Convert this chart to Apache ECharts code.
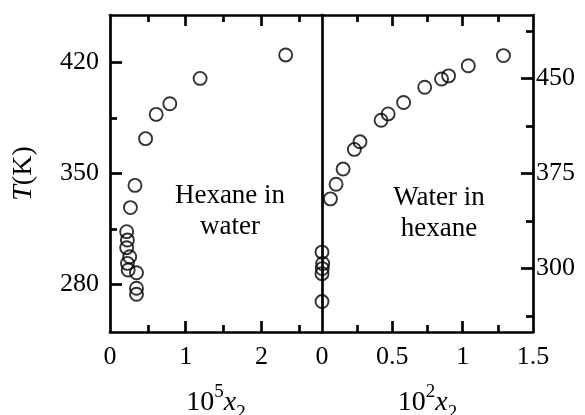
<!DOCTYPE html>
<html><head><meta charset="utf-8">
<script src="https://cdn.jsdelivr.net/npm/echarts@6/dist/echarts.min.js"></script>
<style>html,body{margin:0;padding:0;background:#fff}#c{width:585px;height:415px}</style>
</head><body><div id="c"></div>
<script>
// Hexane in water (left panel): x in units of 1e-5, T in K
const hexaneX = [2.32, 1.19, 0.79, 0.61, 0.47, 0.33, 0.27, 0.22, 0.23, 0.22, 0.26, 0.23, 0.24, 0.35, 0.35, 0.35];
const hexaneT = [424.8, 410, 394, 387.3, 372, 342.5, 328.5, 313.3, 308, 303.2, 297.5, 293.3, 289.1, 287.4, 277.6, 273.8];
// Water in hexane (right panel): x in units of 1e-2, T in K
const waterX = [1.29, 1.04, 0.90, 0.85, 0.73, 0.58, 0.47, 0.42, 0.27, 0.23, 0.15, 0.10, 0.06, 0, 0.005, 0.002, 0, 0];
const waterT = [468, 460, 452, 449.5, 443, 431, 422, 417, 400, 394, 378.5, 366.5, 355, 313, 304, 300, 296, 274];
// Tick values
const leftXLabels = [0, 1, 2];
const leftXMajor = [1, 2];
const leftXMinor = [0.5, 1.5, 2.5];
const rightXLabels = [0, 0.5, 1, 1.5];
const rightXMajor = [0.5, 1];
const rightXMinor = [0.25, 0.75, 1.25];
const leftYLabels = [280, 350, 420];
const leftYMinor = [315, 385];
const rightYLabels = [300, 375, 450];
const rightYMinor = [262.5, 337.5, 412.5, 487.5];

const FONT = '"Liberation Serif", "Times New Roman", serif';
const LW = 2.7;
const lineStyle = {color: '#000', width: LW};
const labelStyle = {color: '#000', fontFamily: FONT, fontSize: 26};

function axisX(grid, pos, min, max, opts) {
  const base = {
    type: 'value', gridIndex: grid, position: pos, min: min, max: max,
    axisLine: {show: false, onZero: false, lineStyle: lineStyle},
    axisTick: {show: false},
    axisLabel: {show: false},
    splitLine: {show: false}
  };
  const o = Object.assign(base, opts);
  o.axisLine.onZero = false;
  return o;
}
function ticks(vals, len) {
  return {show: true, inside: true, length: len, customValues: vals, lineStyle: {color: '#000', width: LW}};
}
const showLine = () => ({show: true, onZero: false, lineStyle: lineStyle});
const nameRich = {
  n: {fontFamily: FONT, fontSize: 28, color: '#000', verticalAlign: 'middle'},
  sup: {fontFamily: FONT, fontSize: 19, color: '#000', verticalAlign: 'top'},
  i: {fontFamily: FONT, fontStyle: 'italic', fontSize: 28, color: '#000', verticalAlign: 'middle'},
  sub: {fontFamily: FONT, fontSize: 19, color: '#000', verticalAlign: 'bottom'}
};

const xAxes = [
  axisX(0, 'bottom', 0, 2.8, {axisLine: showLine(), axisTick: ticks(leftXMajor, 11),
    axisLabel: Object.assign({show: true, margin: 12, customValues: leftXLabels}, labelStyle),
    name: '{n|10}{sup|5}{i|x}{sub|2}', nameLocation: 'middle', nameGap: 51,
    nameTextStyle: {rich: nameRich, lineHeight: 40}}),
  axisX(0, 'bottom', 0, 2.8, {axisTick: ticks(leftXMinor, 7)}),
  axisX(0, 'top', 0, 2.8, {axisLine: showLine(), axisTick: ticks(leftXMajor, 11)}),
  axisX(0, 'top', 0, 2.8, {axisTick: ticks(leftXMinor, 7)}),
  axisX(1, 'bottom', 0, 1.5, {axisLine: showLine(), axisTick: ticks(rightXMajor, 11),
    axisLabel: Object.assign({show: true, margin: 12, customValues: rightXLabels}, labelStyle),
    name: '{n|10}{sup|2}{i|x}{sub|2}', nameLocation: 'middle', nameGap: 51,
    nameTextStyle: {rich: nameRich, lineHeight: 40}}),
  axisX(1, 'bottom', 0, 1.5, {axisTick: ticks(rightXMinor, 7)}),
  axisX(1, 'top', 0, 1.5, {axisLine: showLine(), axisTick: ticks(rightXMajor, 11)}),
  axisX(1, 'top', 0, 1.5, {axisTick: ticks(rightXMinor, 7)})
];
const yAxes = [
  axisX(0, 'left', 250, 450, {axisLine: showLine(), axisTick: ticks(leftYLabels, 12),
    axisLabel: Object.assign({show: true, margin: 11, customValues: leftYLabels}, labelStyle),
    name: '{i|T}{n|(K)}', nameLocation: 'middle', nameGap: 72, nameRotate: 90,
    nameTextStyle: {rich: nameRich}}),
  axisX(0, 'left', 250, 450, {axisTick: ticks(leftYMinor, 7)}),
  axisX(1, 'right', 250, 500, {axisLine: showLine(), axisTick: ticks(rightYLabels, 12),
    axisLabel: Object.assign({show: true, margin: 3, customValues: rightYLabels}, labelStyle)}),
  axisX(1, 'right', 250, 500, {axisTick: ticks(rightYMinor, 7)}),
  axisX(1, 'left', 250, 500, {axisLine: showLine()})
];

const pts = (xs, ys) => xs.map((x, i) => [x, ys[i]]);
const symStyle = {color: 'rgba(0,0,0,0)', borderColor: '#000', borderWidth: 1.9};

const chart = echarts.init(document.getElementById('c'), null, {renderer: 'canvas'});
chart.setOption({
  animation: false,
  backgroundColor: '#fff',
  grid: [
    {left: 110, top: 15, width: 212, height: 317, containLabel: false, outerBoundsMode: 'none'},
    {left: 322, top: 15, width: 211, height: 317, containLabel: false, outerBoundsMode: 'none'}
  ],
  xAxis: xAxes,
  yAxis: yAxes,
  graphic: [
    {type: 'text', x: 230, y: 211, style: {text: 'Hexane in\nwater', fontFamily: FONT, fontSize: 27, fill: '#000', align: 'center', verticalAlign: 'middle', lineHeight: 31}},
    {type: 'text', x: 439, y: 213, style: {text: 'Water in\nhexane', fontFamily: FONT, fontSize: 27, fill: '#000', align: 'center', verticalAlign: 'middle', lineHeight: 31}}
  ],
  series: [
    {type: 'scatter', xAxisIndex: 0, yAxisIndex: 0, data: pts(hexaneX, hexaneT), symbol: 'circle', symbolSize: 13, itemStyle: symStyle, z: 5},
    {type: 'scatter', xAxisIndex: 4, yAxisIndex: 2, data: pts(waterX, waterT), symbol: 'circle', symbolSize: 13, itemStyle: symStyle, z: 5}
  ]
});
</script></body></html>
